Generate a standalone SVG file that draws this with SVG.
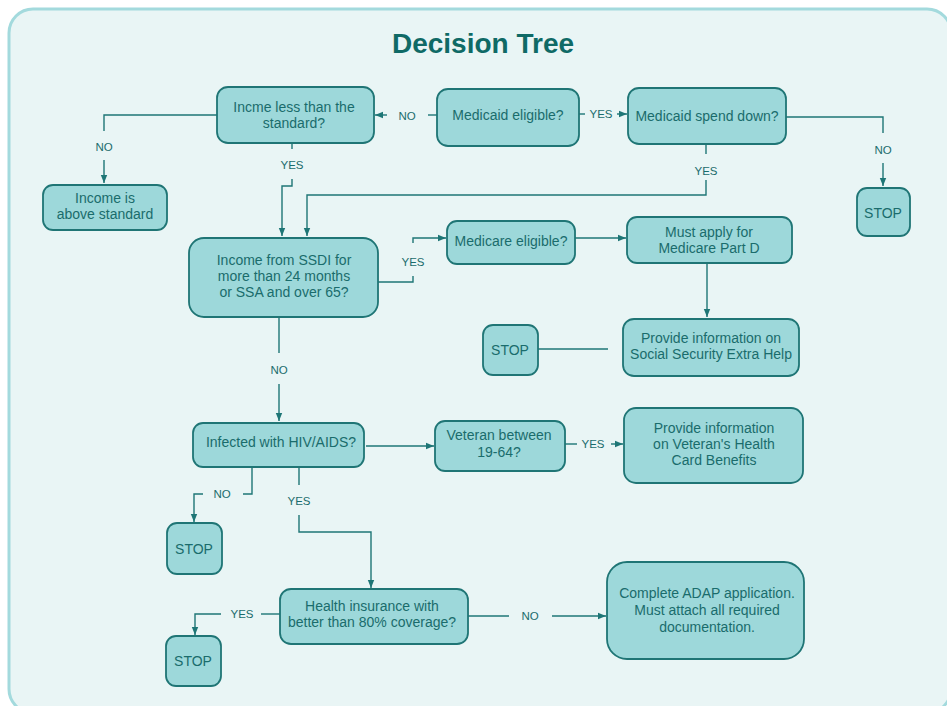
<svg xmlns="http://www.w3.org/2000/svg" width="947" height="706" viewBox="0 0 947 706">
<defs>
<marker id="ah" viewBox="0 0 8 8" refX="8" refY="4" markerWidth="8" markerHeight="8" markerUnits="userSpaceOnUse" orient="auto">
<path d="M0,0.8 L8,4 L0,7.2 Z" fill="#1e7676"/>
</marker>
<style>
.n{fill:#9dd8da;stroke:#1f7575;stroke-width:1.8}
.t{font-family:"Liberation Sans",Arial,sans-serif;font-size:14px;fill:#1a6c6c;text-anchor:middle}
.l{font-family:"Liberation Sans",Arial,sans-serif;font-size:11.5px;fill:#1a6c6c;text-anchor:middle}
.c{fill:none;stroke:#1e7676;stroke-width:1.4}
.a{marker-end:url(#ah)}
</style>
</defs>
<rect x="0" y="0" width="947" height="706" fill="#ffffff"/>
<rect x="9" y="9" width="942" height="704" rx="24" fill="#e9f5f5" stroke="#a3dadd" stroke-width="3"/>
<text x="483" y="53" font-family="'Liberation Sans',Arial,sans-serif" font-size="28" font-weight="bold" fill="#0f6a66" text-anchor="middle">Decision Tree</text>

<g id="connectors">
<path class="c" d="M437,115 H428"/>
<path class="c a" d="M387,115 H375"/>
<path class="c" d="M217,115 H104 V131"/>
<path class="c a" d="M104,160 V183"/>
<path class="c" d="M292,143 V149"/>
<path class="c a" d="M292,179 V186 H282 V236"/>
<path class="c" d="M579,114 H585"/>
<path class="c a" d="M617,114 H627"/>
<path class="c" d="M786,117 H883 V133"/>
<path class="c a" d="M883,163 V186"/>
<path class="c" d="M706,144 V154"/>
<path class="c a" d="M706,180 V195 H307 V236"/>
<path class="c" d="M378,282 H413 V276"/>
<path class="c a" d="M413,243 V238 H446"/>
<path class="c a" d="M575,238 H626"/>
<path class="c a" d="M707,263 V317"/>
<path class="c" d="M538,349 H608"/>
<path class="c" d="M279,317 V353"/>
<path class="c a" d="M279,384 V421"/>
<path class="c a" d="M366,446 H434"/>
<path class="c" d="M565,444 H577"/>
<path class="c a" d="M611,444 H623"/>
<path class="c" d="M252,467 V494 H243"/>
<path class="c a" d="M203,494 H194 V522"/>
<path class="c" d="M299,468 V485"/>
<path class="c a" d="M299,515 V532 H371 V588"/>
<path class="c" d="M280,614 H261"/>
<path class="c a" d="M221,614 H195 V635"/>
<path class="c" d="M468,616 H509"/>
<path class="c a" d="M552,616 H606"/>
<text class="l" x="407" y="120">NO</text>
<text class="l" x="104" y="151">NO</text>
<text class="l" x="292" y="169">YES</text>
<text class="l" x="601" y="118">YES</text>
<text class="l" x="883" y="154">NO</text>
<text class="l" x="706" y="175">YES</text>
<text class="l" x="413" y="266">YES</text>
<text class="l" x="279" y="374">NO</text>
<text class="l" x="593" y="448">YES</text>
<text class="l" x="222" y="498">NO</text>
<text class="l" x="299" y="505">YES</text>
<text class="l" x="242" y="618">YES</text>
<text class="l" x="530" y="620">NO</text>
</g>

<g id="incme">
<rect class="n" x="217" y="87" width="157" height="56" rx="11"/>
<text class="t" x="294" y="112">Incme less than the</text>
<text class="t" x="294" y="128">standard?</text>
</g>
<g id="medicaid-eligible">
<rect class="n" x="437" y="89" width="142" height="57" rx="11"/>
<text class="t" x="508" y="120">Medicaid eligible?</text>
</g>
<g id="spend-down">
<rect class="n" x="628" y="88" width="158" height="56" rx="11"/>
<text class="t" x="707" y="121">Medicaid spend down?</text>
</g>
<g id="stop1">
<rect class="n" x="857" y="188" width="53" height="48" rx="10"/>
<text class="t" x="883" y="218">STOP</text>
</g>
<g id="above-standard">
<rect class="n" x="43" y="185" width="124" height="45" rx="10"/>
<text class="t" x="105" y="203">Income is</text>
<text class="t" x="105" y="219">above standard</text>
</g>
<g id="ssdi">
<rect class="n" x="189" y="238" width="189" height="79" rx="15"/>
<text class="t" x="284" y="265">Income from SSDI for</text>
<text class="t" x="284" y="281">more than 24 months</text>
<text class="t" x="284" y="297">or SSA and over 65?</text>
</g>
<g id="medicare-eligible">
<rect class="n" x="447" y="221" width="128" height="43" rx="10"/>
<text class="t" x="511" y="246">Medicare eligible?</text>
</g>
<g id="part-d">
<rect class="n" x="627" y="217" width="165" height="46" rx="10"/>
<text class="t" x="709" y="237">Must apply for</text>
<text class="t" x="709" y="253">Medicare Part D</text>
</g>
<g id="extra-help">
<rect class="n" x="623" y="319" width="176" height="57" rx="11"/>
<text class="t" x="711" y="343">Provide information on</text>
<text class="t" x="711" y="359">Social Security Extra Help</text>
</g>
<g id="stop2">
<rect class="n" x="483" y="325" width="55" height="50" rx="10"/>
<text class="t" x="510" y="355">STOP</text>
</g>
<g id="hiv">
<rect class="n" x="193" y="423" width="171" height="44" rx="10"/>
<text class="t" x="281" y="447">Infected with HIV/AIDS?</text>
</g>
<g id="veteran">
<rect class="n" x="435" y="421" width="130" height="50" rx="10"/>
<text class="t" x="499" y="440">Veteran between</text>
<text class="t" x="499" y="457">19-64?</text>
</g>
<g id="veteran-info">
<rect class="n" x="624" y="408" width="179" height="75" rx="12"/>
<text class="t" x="714" y="433">Provide information</text>
<text class="t" x="714" y="449">on Veteran's Health</text>
<text class="t" x="714" y="465">Card Benefits</text>
</g>
<g id="stop3">
<rect class="n" x="167" y="523" width="55" height="51" rx="10"/>
<text class="t" x="194" y="554">STOP</text>
</g>
<g id="health-insurance">
<rect class="n" x="280" y="589" width="188" height="55" rx="11"/>
<text class="t" x="372" y="611">Health insurance with</text>
<text class="t" x="372" y="627">better than 80% coverage?</text>
</g>
<g id="stop4">
<rect class="n" x="166" y="636" width="55" height="50" rx="10"/>
<text class="t" x="193" y="666">STOP</text>
</g>
<g id="adap">
<rect class="n" x="607" y="562" width="197" height="97" rx="20"/>
<text class="t" x="707" y="598">Complete ADAP application.</text>
<text class="t" x="707" y="615">Must attach all required</text>
<text class="t" x="707" y="632">documentation.</text>
</g>
</svg>
